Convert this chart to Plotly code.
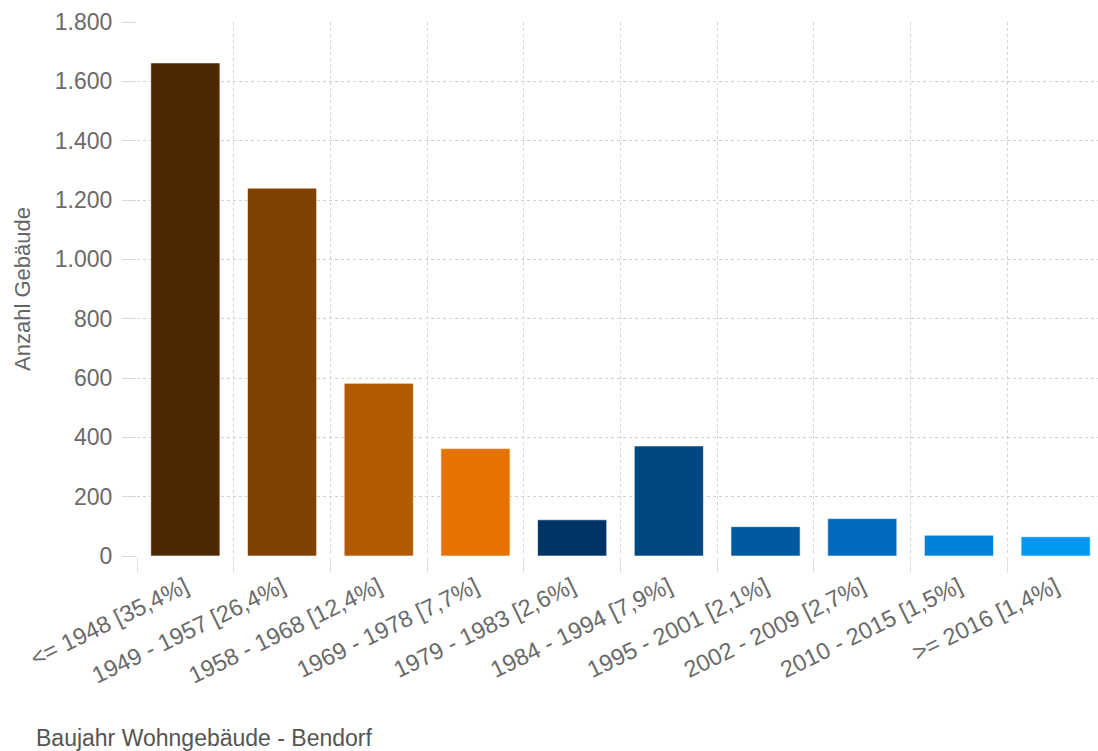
import plotly.graph_objects as go

categories = ["<= 1948 [35,4%]", "1949 - 1957 [26,4%]", "1958 - 1968 [12,4%]",
              "1969 - 1978 [7,7%]", "1979 - 1983 [2,6%]", "1984 - 1994 [7,9%]",
              "1995 - 2001 [2,1%]", "2002 - 2009 [2,7%]", "2010 - 2015 [1,5%]",
              ">= 2016 [1,4%]"]
values = [1662, 1240, 582, 362, 122, 371, 99, 126, 70, 65]
colors = ["#4d2800", "#7f4000", "#b35900", "#e67300", "#003366",
          "#004680", "#00599f", "#006bbf", "#0082db", "#0099f2"]
y_ticks = [0, 200, 400, 600, 800, 1000, 1200, 1400, 1600, 1800]

W, H = 1098, 751
L, T, B = 137, 22, 195
plot_w = W - L
cat_w = 96.7

fig = go.Figure(go.Bar(
    x=categories, y=values,
    marker=dict(color=colors, line=dict(color="rgba(255,255,255,0.6)", width=1)),
    width=0.715,
    hoverinfo="x+y",
))

fig.update_layout(
    width=W, height=H,
    margin=dict(l=L, r=0, t=T, b=B),
    paper_bgcolor="white", plot_bgcolor="white",
    separators=",.",
    showlegend=False,
    font=dict(family="Arial, Liberation Sans, sans-serif", color="#666666"),
    xaxis=dict(
        type="category",
        range=[-0.5, -0.5 + plot_w / cat_w],
        tickson="boundaries",
        showgrid=True, gridcolor="#d4d4d4", griddash="dot", gridwidth=1,
        ticks="outside", ticklen=16, tickcolor="#e0e0e0", tickwidth=1,
        tickangle=-26,
        tickfont=dict(size=23.5, color="#6a6a6a"),
        ticklabelstandoff=12,
        showline=False, zeroline=False,
    ),
    yaxis=dict(
        range=[0, 1800],
        tickvals=y_ticks,
        separatethousands=True,
        showgrid=True, gridcolor="#d0d0d0", griddash="dot", gridwidth=1,
        ticks="outside", ticklen=14, tickcolor="#d8d8d8",
        tickfont=dict(size=23, color="#6a6a6a"),
        ticklabelstandoff=5,
        showline=False, zeroline=False,
    ),
    annotations=[
        dict(text="Anzahl Gebäude",
             textangle=-90, xref="paper", yref="paper",
             x=0, y=0.5, xshift=-115, yshift=0, xanchor="center", yanchor="middle",
             showarrow=False, font=dict(size=22, color="#666666")),
        dict(text="Baujahr Wohngebäude - Bendorf", xref="paper", yref="paper",
             x=0, y=0, xshift=-103, yshift=-182, xanchor="left", yanchor="middle",
             showarrow=False, font=dict(size=23, color="#555555")),
    ],
)

fig.write_html("out.html")
